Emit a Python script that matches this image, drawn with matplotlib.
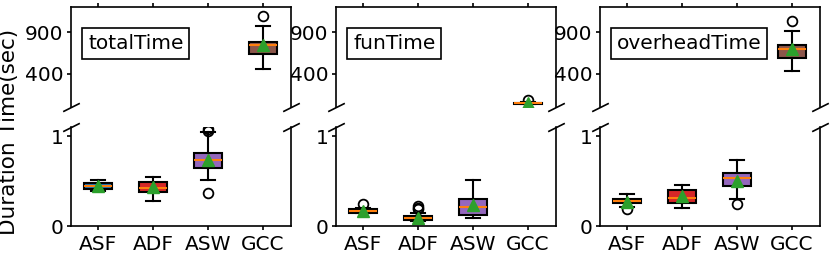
import matplotlib
matplotlib.use('Agg')
import matplotlib.pyplot as plt

categories = ['ASF', 'ADF', 'ASW', 'GCC']
panel_titles = ['totalTime', 'funTime', 'overheadTime']
box_colors = ['tab:blue', 'tab:red', 'tab:purple', 'tab:brown']

# totalTime
total_q1 = [0.414, 0.374, 0.644, 640]
total_med = [0.444, 0.426, 0.730, 739]
total_q3 = [0.481, 0.489, 0.815, 780]
total_lo = [0.386, 0.274, 0.507, 460]
total_hi = [0.511, 0.548, 1.044, 972]
total_mean = [0.445, 0.428, 0.735, 740]
total_fliers = [[], [], [1.06, 1.08, 0.363], [1087]]

# funTime
fun_q1 = [0.148, 0.067, 0.122, 42]
fun_med = [0.170, 0.092, 0.211, 48]
fun_q3 = [0.189, 0.111, 0.296, 54]
fun_lo = [0.140, 0.052, 0.085, 38]
fun_hi = [0.200, 0.141, 0.511, 60]
fun_mean = [0.165, 0.090, 0.230, 45]
fun_fliers = [[0.244], [0.185, 0.205, 0.226], [], [85]]

# overheadTime
over_q1 = [0.259, 0.252, 0.448, 583]
over_med = [0.274, 0.307, 0.537, 700]
over_q3 = [0.300, 0.400, 0.589, 748]
over_lo = [0.215, 0.196, 0.296, 432]
over_hi = [0.356, 0.459, 0.733, 916]
over_mean = [0.272, 0.330, 0.505, 690]
over_fliers = [[0.189], [], [0.244], [1036]]

panel_data = [
    (total_q1, total_med, total_q3, total_lo, total_hi, total_mean, total_fliers),
    (fun_q1, fun_med, fun_q3, fun_lo, fun_hi, fun_mean, fun_fliers),
    (over_q1, over_med, over_q3, over_lo, over_hi, over_mean, over_fliers),
]

plt.rcParams['font.family'] = ['DejaVu Sans']
plt.rcParams['font.size'] = 14.5

fig = plt.figure(figsize=(8.31, 2.57), dpi=100)
W, H = 831.0, 257.0
lefts = [70.5, 335.5, 599.5]
aw = 220.0
top_y0, top_y1 = 7.0, 107.0
bot_y0, bot_y1 = 127.0, 226.0
BOT_MAX = 1.1

positions = [1, 2, 3, 4]


def draw(ax, stats, pos, cols):
    if not stats:
        return
    bp = ax.bxp(stats, positions=pos, widths=0.5, patch_artist=True,
                showmeans=True,
                boxprops=dict(edgecolor='black', linewidth=1.5),
                whiskerprops=dict(color='black', linewidth=1.5),
                capprops=dict(color='black', linewidth=1.5),
                medianprops=dict(color='tab:orange', linewidth=1.5),
                meanprops=dict(marker='^', markerfacecolor='tab:green',
                               markeredgecolor='tab:green', markersize=9),
                flierprops=dict(marker='o', markerfacecolor='none',
                                markeredgecolor='black', markersize=7,
                                markeredgewidth=1.3))
    for patch, c in zip(bp['boxes'], cols):
        patch.set_facecolor(c)


for p in range(3):
    q1, med, q3, lo, hi, mean, fl = panel_data[p]
    top_stats, top_pos, top_cols = [], [], []
    bot_stats, bot_pos, bot_cols = [], [], []
    for i in range(4):
        s = dict(med=med[i], q1=q1[i], q3=q3[i], whislo=lo[i],
                 whishi=hi[i], mean=mean[i], fliers=fl[i], label=categories[i])
        if med[i] > BOT_MAX:
            top_stats.append(s); top_pos.append(positions[i]); top_cols.append(box_colors[i])
        else:
            bot_stats.append(s); bot_pos.append(positions[i]); bot_cols.append(box_colors[i])

    ax_top = fig.add_axes([lefts[p] / W, (H - top_y1) / H, aw / W, (top_y1 - top_y0) / H])
    ax_bot = fig.add_axes([lefts[p] / W, (H - bot_y1) / H, aw / W, (bot_y1 - bot_y0) / H])
    draw(ax_top, top_stats, top_pos, top_cols)
    draw(ax_bot, bot_stats, bot_pos, bot_cols)
    for ax in (ax_top, ax_bot):
        ax.set_xlim(0.5, 4.5)
        for s in ax.spines.values():
            s.set_linewidth(1.2)
    ax_top.set_ylim(0, 1200)
    ax_bot.set_ylim(0, BOT_MAX)
    ax_top.set_yticks([400, 900])
    ax_bot.set_yticks([0, 1])
    ax_bot.set_xticks(positions)
    ax_bot.set_xticklabels(categories)
    ax_top.set_xticks(positions)
    ax_top.set_xticklabels([])
    ax_top.spines['bottom'].set_visible(False)
    ax_bot.spines['top'].set_visible(False)
    ax_top.xaxis.tick_top()
    ax_top.tick_params(labeltop=False)
    ax_bot.xaxis.tick_bottom()
    for ax in (ax_top, ax_bot):
        ax.tick_params(axis='x', width=1.2, length=3, pad=3.5)
        ax.tick_params(axis='y', width=1.2, length=3, pad=2)

    d = .5
    kwargs = dict(marker=[(-1, -d), (1, d)], markersize=12,
                  linestyle="none", color='k', mec='k', mew=1.2, clip_on=False)
    ax_top.plot([0, 1], [0, 0], transform=ax_top.transAxes, **kwargs)
    ax_bot.plot([0, 1], [1, 1], transform=ax_bot.transAxes, **kwargs)

    ax_top.text(0.08, 0.73, panel_titles[p], transform=ax_top.transAxes,
                ha='left', va='top', fontsize=14.5,
                bbox=dict(boxstyle='square,pad=0.28', facecolor='white',
                          edgecolor='black', linewidth=1.2))

fig.text(9.5 / W, (H - 132) / H, 'Duration Time(sec)', rotation=90,
         ha='center', va='center', fontsize=15.5)

fig.savefig('out.png', dpi=100)
